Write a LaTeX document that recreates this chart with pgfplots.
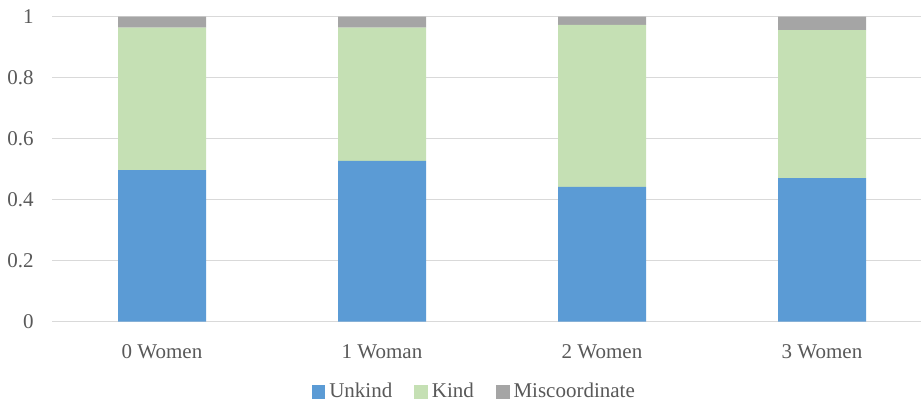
\documentclass[border=0pt]{standalone}
\usepackage{pgfplots}
\pgfplotsset{compat=1.18}
\usepackage{fontspec}
\setmainfont{Liberation Serif}
\definecolor{unkind}{HTML}{5B9BD5}
\definecolor{kind}{HTML}{C5E0B4}
\definecolor{misc}{HTML}{A5A5A5}
\definecolor{gridc}{HTML}{D9D9D9}
\definecolor{txt}{HTML}{595959}
\begin{document}
\fontsize{10.5}{12.5}\selectfont
\begin{tikzpicture}
\begin{axis}[
  name=ax,
  scale only axis,
  width=440pt, height=152.5pt,
  ybar stacked, bar width=44pt,
  xmin=-0.5, xmax=3.5, ymin=0, ymax=1,
  xtick={0,1,2,3},
  xticklabels={0 Women,1 Woman,2 Women,3 Women},
  ytick={0,0.2,0.4,0.6,0.8,1},
  /pgf/number format/assume math mode=true,
  axis line style={draw=none},
  major tick length=0pt,
  ymajorgrids, grid style={gridc, line width=0.75pt},
  tick label style={text=txt, font=\fontsize{10.5}{12.5}\selectfont},
  yticklabel style={xshift=-5.5pt},
  xticklabel style={anchor=center, yshift=-15.2pt},
  legend style={draw=none, at={(0.481,-0.2305)}, anchor=center, legend columns=3,
    font=\fontsize{10.5}{12.5}\selectfont, text=txt,
    /tikz/every even column/.append style={column sep=9pt}},
  legend image code/.code={\fill[#1] (0pt,-3.4pt) rectangle (6.8pt,3.4pt);},
  clip=false,
]
\addplot[fill=unkind, draw=none] coordinates {(0,0.497) (1,0.527) (2,0.442) (3,0.471)};
\addlegendentry{Unkind}
\addplot[fill=kind, draw=none] coordinates {(0,0.467) (1,0.437) (2,0.531) (3,0.485)};
\addlegendentry{Kind}
\addplot[fill=misc, draw=none] coordinates {(0,0.036) (1,0.036) (2,0.027) (3,0.044)};
\addlegendentry{Miscoordinate}
\end{axis}
\pgfresetboundingbox
\path[use as bounding box] ([shift={(-26pt,-39.65pt)}]ax.south west) rectangle ([shift={(-5.5pt,8.35pt)}]ax.north east);
\end{tikzpicture}
\end{document}
